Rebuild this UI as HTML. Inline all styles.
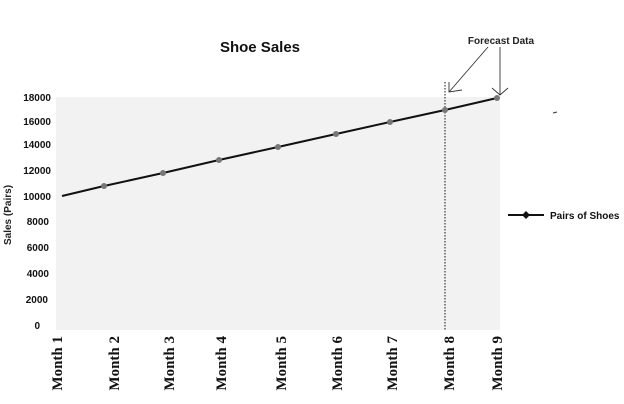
<!DOCTYPE html>
<html><head><style>body{margin:0;background:#fff}svg{display:block}</style></head><body>
<svg width="624" height="404" xmlns="http://www.w3.org/2000/svg" font-family="Liberation Sans, sans-serif">
<rect width="624" height="404" fill="#fff"/>
<rect x="56" y="97" width="444" height="233" fill="#f2f2f2"/>
<text x="260" y="52" font-size="15" font-weight="bold" text-anchor="middle" fill="#111">Shoe  Sales</text>
<text x="501" y="44" font-size="10" font-weight="bold" text-anchor="middle" fill="#222">Forecast Data</text>
<g font-size="10" font-weight="bold" fill="#111" text-anchor="end">
<text x="51" y="101">18000</text><text x="51" y="125">16000</text><text x="51" y="148">14000</text>
<text x="51" y="174">12000</text><text x="51" y="200">10000</text><text x="49" y="225">8000</text>
<text x="49" y="251">6000</text><text x="49" y="277">4000</text><text x="48" y="303">2000</text>
<text x="40" y="329">0</text>
</g>
<text transform="translate(11,215) rotate(-90)" font-size="10" font-weight="bold" text-anchor="middle" fill="#222">Sales (Pairs)</text>
<g font-family="Liberation Serif, serif" font-size="15" font-weight="bold" fill="#111" text-anchor="end">
<text transform="translate(62,336) rotate(-90)">Month 1</text>
<text transform="translate(119,336) rotate(-90)">Month 2</text>
<text transform="translate(174,336) rotate(-90)">Month 3</text>
<text transform="translate(226,336) rotate(-90)">Month 4</text>
<text transform="translate(286,336) rotate(-90)">Month 5</text>
<text transform="translate(342,336) rotate(-90)">Month 6</text>
<text transform="translate(397,336) rotate(-90)">Month 7</text>
<text transform="translate(454,336) rotate(-90)">Month 8</text>
<text transform="translate(502,336) rotate(-90)">Month 9</text>
</g>
<line x1="445" y1="82" x2="445" y2="330" stroke="#111" stroke-dasharray="1.5,1.5"/>
<polyline points="62,196 104,186 163,173 219,160 278,147 336,134 390,122 445,110 497,98" fill="none" stroke="#111" stroke-width="2"/>
<g fill="#777">
<circle cx="104" cy="186" r="3"/><circle cx="163" cy="173" r="3"/><circle cx="219" cy="160" r="3"/>
<circle cx="278" cy="147" r="3"/><circle cx="336" cy="134" r="3"/><circle cx="390" cy="122" r="3"/>
<circle cx="445" cy="110" r="3"/><circle cx="497" cy="98" r="3"/>
</g>
<g stroke="#333" stroke-width="0.9" fill="none">
<line x1="488" y1="47" x2="449" y2="92"/><polyline points="449,82 449,92 462,90"/>
<line x1="500" y1="47" x2="500" y2="95"/><polyline points="492,88 500,95 508,88"/>
</g>
<line x1="553" y1="113" x2="557" y2="112" stroke="#333"/>
<line x1="508" y1="215" x2="544" y2="215" stroke="#111" stroke-width="2"/>
<polygon points="526,211 530,215 526,219 522,215" fill="#111"/>
<text x="550" y="219" font-size="10" font-weight="bold" fill="#111">Pairs of Shoes</text>
</svg>
</body></html>
